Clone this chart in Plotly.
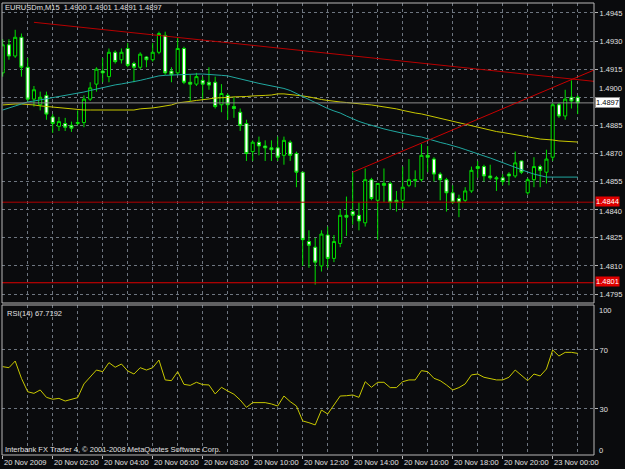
import plotly.graph_objects as go

# ---------------- data ----------------
bar_index = list(range(93))  # 20 Nov 00:00 ... 23 Nov 01:00, M15 bars

opens = [1.4913, 1.4928, 1.4922, 1.4932, 1.4916, 1.4899, 1.4896, 1.4901, 1.48895, 1.48845,
         1.4886, 1.4885, 1.4886, 1.48865, 1.4899, 1.4907, 1.4914, 1.4911, 1.4924, 1.4920,
         1.4926, 1.4918, 1.4916, 1.49215, 1.4920, 1.4924, 1.4933, 1.4914, 1.4913, 1.4926,
         1.4908, 1.4907, 1.4909, 1.4908, 1.4908, 1.4896, 1.4901, 1.4895, 1.4892, 1.4886,
         1.4871, 1.4876, 1.4874, 1.4873, 1.4873, 1.4869, 1.4876, 1.4870, 1.4860, 1.4823,
         1.4820, 1.4810, 1.48265, 1.4814, 1.4822, 1.4837, 1.4839, 1.4837, 1.4833, 1.4856,
         1.4845, 1.4854, 1.4854, 1.4845, 1.4845, 1.4853, 1.48555, 1.4856, 1.4869, 1.4867,
         1.4859, 1.4856, 1.4849, 1.4846, 1.4845, 1.4850, 1.4863, 1.4863, 1.4858, 1.4857,
         1.4857, 1.4859, 1.4858, 1.4866, 1.4849, 1.4856, 1.4863, 1.4860, 1.4868, 1.4896,
         1.4890, 1.4900, 1.4900]
highs = [1.4931, 1.4931, 1.4936, 1.4934, 1.4921, 1.4906, 1.4903, 1.4903, 1.4891, 1.48895,
         1.4889, 1.4887, 1.4893, 1.4901, 1.4908, 1.4916, 1.4921, 1.4926, 1.4925, 1.4926,
         1.4929, 1.4919, 1.4924, 1.4922, 1.4929, 1.4935, 1.4935, 1.4916, 1.4932, 1.4927,
         1.4912, 1.4913, 1.4911, 1.4916, 1.4911, 1.4907, 1.4902, 1.4900, 1.4894, 1.4888,
         1.4877, 1.4879, 1.4877, 1.4877, 1.4879, 1.4879, 1.4877, 1.4871, 1.4860, 1.4829,
         1.4825, 1.4829, 1.4831, 1.48265, 1.4840, 1.4847, 1.4860, 1.4844, 1.4862, 1.4857,
         1.4854, 1.4862, 1.4855, 1.4850, 1.4863, 1.4867, 1.4861, 1.4875, 1.4874, 1.4868,
         1.4860, 1.4857, 1.4853, 1.4848, 1.4852, 1.4863, 1.4866, 1.4864, 1.4864, 1.4858,
         1.4859, 1.4860, 1.4871, 1.4866, 1.4857, 1.4868, 1.4864, 1.4872, 1.4897, 1.4897,
         1.4904, 1.4909, 1.4901]
lows = [1.4911, 1.4920, 1.4921, 1.4911, 1.4898, 1.4895, 1.4893, 1.4888, 1.4881, 1.4882,
        1.4882, 1.48815, 1.4885, 1.4884, 1.4898, 1.4903, 1.4908, 1.4908, 1.4918, 1.4918,
        1.4916, 1.4908, 1.4915, 1.4916, 1.4919, 1.4923, 1.4912, 1.4908, 1.4912, 1.4907,
        1.4898, 1.4906, 1.4899, 1.4904, 1.4894, 1.4892, 1.4888, 1.4889, 1.4882, 1.4866,
        1.4866, 1.4869, 1.4866, 1.4866, 1.4866, 1.4864, 1.4866, 1.4852, 1.4810, 1.4809,
        1.4800, 1.4807, 1.4809, 1.4812, 1.4820, 1.4826, 1.4832, 1.4829, 1.4831, 1.4845,
        1.4824, 1.4844, 1.4840, 1.4839, 1.4841, 1.4852, 1.4852, 1.4855, 1.4860, 1.4855,
        1.4845, 1.4839, 1.4843, 1.4836, 1.4844, 1.4849, 1.4857, 1.4855, 1.4856, 1.4850,
        1.4853, 1.4853, 1.4857, 1.4859, 1.4848, 1.4852, 1.4852, 1.4854, 1.4866, 1.4889,
        1.4888, 1.4894, 1.4891]
closes = [1.4928, 1.4922, 1.4932, 1.4916, 1.4899, 1.4904, 1.4900, 1.4891, 1.4886, 1.4887,
          1.4884, 1.48835, 1.48865, 1.4899, 1.4905, 1.4915, 1.4913, 1.4924, 1.4919, 1.4924,
          1.4917, 1.4916, 1.4923, 1.4920, 1.4924, 1.4934, 1.4913, 1.4912, 1.4926, 1.4908,
          1.4907, 1.4911, 1.4907, 1.49065, 1.4895, 1.4902, 1.4896, 1.4894, 1.4885, 1.4870,
          1.4876, 1.4874, 1.4873, 1.4872, 1.4868, 1.4877, 1.4869, 1.4860, 1.4824, 1.4821,
          1.4812, 1.4827, 1.4814, 1.4823, 1.4837, 1.4836, 1.4837, 1.4834, 1.4856, 1.4846,
          1.4854, 1.4853, 1.4844, 1.4844, 1.4852, 1.4856, 1.4856, 1.4869, 1.4868, 1.4859,
          1.4856, 1.4849, 1.4844, 1.4844, 1.4850, 1.4861, 1.4862, 1.4858, 1.4857, 1.48565,
          1.4855, 1.4858, 1.4865, 1.4860, 1.4856, 1.4863, 1.4861, 1.4867, 1.4896, 1.4890,
          1.4899, 1.4898, 1.4897]

ma_teal = [1.48932, 1.48943, 1.48954, 1.48964, 1.48975, 1.48980, 1.48986, 1.48991, 1.48996, 1.49002,
           1.49007, 1.49012, 1.49020, 1.49028, 1.49036, 1.49044, 1.49052, 1.49059, 1.49066, 1.49071,
           1.49076, 1.49083, 1.49090, 1.49098, 1.49108, 1.49114, 1.49117, 1.49119, 1.49120, 1.49122,
           1.49123, 1.49124, 1.49124, 1.49123, 1.49119, 1.49117, 1.49114, 1.49107, 1.49100, 1.49092,
           1.49082, 1.49074, 1.49068, 1.49063, 1.49055, 1.49047, 1.49036, 1.49020, 1.49004, 1.48986,
           1.48970, 1.48956, 1.48940, 1.48927, 1.48916, 1.48900, 1.48884, 1.48871, 1.48860, 1.48849,
           1.48839, 1.48831, 1.48823, 1.48815, 1.48807, 1.48801, 1.48793, 1.48788, 1.48777, 1.48769,
           1.48759, 1.48751, 1.48743, 1.48732, 1.48721, 1.48711, 1.48697, 1.48687, 1.48676, 1.48663,
           1.48652, 1.48639, 1.48625, 1.48612, 1.48601, 1.48590, 1.48580, 1.48574, 1.48574, 1.48574,
           1.48574, 1.48574, 1.48574]
ma_yellow = [1.48959, 1.48962, 1.48964, 1.48964, 1.48962, 1.48959, 1.48954, 1.48951, 1.48948, 1.48943,
             1.48938, 1.48935, 1.48932, 1.48932, 1.48932, 1.48932, 1.48932, 1.48932, 1.48932, 1.48932,
             1.48932, 1.48932, 1.48938, 1.48940, 1.48943, 1.48948, 1.48954, 1.48959, 1.48970, 1.48972,
             1.48978, 1.48983, 1.48986, 1.48991, 1.48996, 1.48996, 1.48999, 1.49002, 1.49002, 1.49004,
             1.49007, 1.49007, 1.49010, 1.49012, 1.49018, 1.49018, 1.49015, 1.49012, 1.49007, 1.49002,
             1.48994, 1.48988, 1.48983, 1.48978, 1.48975, 1.48972, 1.48970, 1.48964, 1.48962, 1.48959,
             1.48954, 1.48948, 1.48943, 1.48938, 1.48930, 1.48921, 1.48916, 1.48911, 1.48903, 1.48895,
             1.48889, 1.48881, 1.48873, 1.48865, 1.48857, 1.48847, 1.48839, 1.48831, 1.48825, 1.48817,
             1.48812, 1.48807, 1.48799, 1.48793, 1.48788, 1.48783, 1.48777, 1.48775, 1.48772, 1.48767,
             1.48764, 1.48761, 1.48761]

rsi = [58.7, 58.0, 62.5, 50.8, 41.7, 40.6, 42.9, 37.9, 36.6, 37.2,
       35.4, 36.6, 37.7, 47.0, 51.5, 56.4, 55.3, 61.4, 58.3, 60.5,
       55.8, 53.7, 58.0, 56.4, 58.0, 63.2, 49.7, 49.2, 55.3, 46.7,
       46.0, 48.1, 46.5, 46.3, 40.2, 44.7, 42.2, 40.0, 36.1, 31.1,
       34.3, 34.3, 34.3, 33.4, 32.0, 38.8, 35.0, 32.0, 21.9, 20.7,
       19.2, 29.3, 26.6, 32.7, 38.8, 39.0, 39.5, 37.9, 48.5, 44.7,
       48.1, 48.1, 44.5, 44.5, 48.5, 49.7, 49.7, 56.0, 55.3, 50.8,
       49.2, 46.3, 42.9, 44.5, 47.0, 53.1, 53.7, 51.5, 50.8, 49.7,
       49.7, 51.5, 56.4, 52.6, 49.2, 53.7, 52.4, 57.1, 70.0, 65.9,
       68.4, 68.4, 67.7]

time_label_index = [0, 8, 16, 24, 32, 40, 48, 56, 64, 72, 80, 88]
time_labels = ["20 Nov 2009", "20 Nov 02:00", "20 Nov 04:00", "20 Nov 06:00",
               "20 Nov 08:00", "20 Nov 10:00", "20 Nov 12:00", "20 Nov 14:00",
               "20 Nov 16:00", "20 Nov 18:00", "20 Nov 20:00", "23 Nov 00:00"]
price_ticks = [1.4795, 1.4810, 1.4825, 1.4840, 1.4855, 1.4870, 1.4885,
               1.4900, 1.4915, 1.4930, 1.4945]
# tick labels that sit next to a price box are drawn as separate texts, nudged clear of the box
nudged_ticks = [1.4900, 1.4840]
rsi_ticks = [30, 70]
rsi_edge_labels = ["100", "0"]
rsi_edge_values = [97, 2]

level_prices = [1.4844, 1.4801]
current_price = 1.4897
trend_down_x = [5, 94.6]
trend_down_y = [1.4940, 1.49085]
trend_up_x = [56, 94.6]
trend_up_y = [1.4860, 1.49145]

title_text = "EURUSDm,M15  1.4900 1.4901 1.4891 1.4897"
rsi_text = "RSI(14) 67.7192"
copyright_text = "Interbank FX Trader 4, \u00a9 2001-2008 MetaQuotes Software Corp."

# ---------------- styling / layout ----------------
W, H = 625, 469
ML, MR, MT, MB = 2, 31, 3, 14
PW, PH = W - ML - MR, H - MT - MB

def paper_x(px):
    return (px - ML) / PW

def paper_y(py):
    return (H - MB - py) / PH

FONT = "Liberation Sans, Arial, sans-serif"
TXT = "#E0E0E0"
GRID = "#6E7680"
GREEN = "#00E000"
BORDER = "#B8B8B8"

fig = go.Figure()

fig.add_trace(go.Candlestick(
    x=bar_index, open=opens, high=highs, low=lows, close=closes,
    increasing=dict(line=dict(color=GREEN, width=1), fillcolor="#000000"),
    decreasing=dict(line=dict(color=GREEN, width=1), fillcolor="#FFFFFF"),
    whiskerwidth=0, hoverinfo="skip", xaxis="x", yaxis="y", showlegend=False))

fig.add_trace(go.Scatter(x=bar_index, y=ma_yellow, mode="lines",
                         line=dict(color="#C8C800", width=1), hoverinfo="skip",
                         xaxis="x", yaxis="y", showlegend=False))
fig.add_trace(go.Scatter(x=bar_index, y=ma_teal, mode="lines",
                         line=dict(color="#20A8A0", width=1), hoverinfo="skip",
                         xaxis="x", yaxis="y", showlegend=False))

# horizontal price objects
x_full = [-0.112, 94.608]
fig.add_trace(go.Scatter(x=x_full, y=[current_price] * 2, mode="lines",
                         line=dict(color="#8C8C8C", width=1), hoverinfo="skip",
                         xaxis="x", yaxis="y", showlegend=False))
fig.add_trace(go.Scatter(x=x_full, y=[level_prices[0]] * 2, mode="lines",
                         line=dict(color="#B00000", width=1), hoverinfo="skip",
                         xaxis="x", yaxis="y", showlegend=False))
fig.add_trace(go.Scatter(x=x_full, y=[level_prices[1]] * 2, mode="lines",
                         line=dict(color="#E00000", width=1), hoverinfo="skip",
                         xaxis="x", yaxis="y", showlegend=False))
# trend lines
fig.add_trace(go.Scatter(x=trend_down_x, y=trend_down_y, mode="lines",
                         line=dict(color="#B80000", width=1), hoverinfo="skip",
                         xaxis="x", yaxis="y", showlegend=False))
fig.add_trace(go.Scatter(x=trend_up_x, y=trend_up_y, mode="lines",
                         line=dict(color="#C80000", width=1), hoverinfo="skip",
                         xaxis="x", yaxis="y", showlegend=False))

# RSI
fig.add_trace(go.Scatter(x=bar_index, y=rsi, mode="lines",
                         line=dict(color="#C8C800", width=1), hoverinfo="skip",
                         xaxis="x", yaxis="y2", showlegend=False))

small = dict(family=FONT, size=7.5, color=TXT)
annotations = []
annotations.append(dict(text=title_text, xref="paper", yref="paper",
                        x=paper_x(3), y=paper_y(7.5), xanchor="left", yanchor="middle",
                        showarrow=False, font=small))
annotations.append(dict(text=rsi_text, xref="paper", yref="paper",
                        x=paper_x(5), y=paper_y(313), xanchor="left", yanchor="middle",
                        showarrow=False, font=small))
annotations.append(dict(text=copyright_text, xref="paper", yref="paper",
                        x=paper_x(3), y=paper_y(449.5), xanchor="left", yanchor="middle",
                        showarrow=False, font=small))
for xi, lab in zip(time_label_index, time_labels):
    annotations.append(dict(text=lab, xref="x", yref="paper", x=xi, y=paper_y(462.5),
                            xanchor="left", yanchor="middle", xshift=-1, showarrow=False,
                            font=small))
for lab, val in zip(rsi_edge_labels, rsi_edge_values):
    annotations.append(dict(text=lab, xref="paper", yref="y2", x=paper_x(597), y=val,
                            xanchor="left", yanchor="middle", showarrow=False, font=small))
# nudged tick labels (1.4900 sits above the current-price box, 1.4840 below the 1.4844 box)
annotations.append(dict(text="%.4f" % nudged_ticks[0], xref="paper", yref="y",
                        x=paper_x(597), y=nudged_ticks[0], yshift=9, xanchor="left",
                        yanchor="middle", showarrow=False, font=small))
annotations.append(dict(text="%.4f" % nudged_ticks[1], xref="paper", yref="y",
                        x=paper_x(597), y=nudged_ticks[1], yshift=-2, xanchor="left",
                        yanchor="middle", showarrow=False, font=small))
# price boxes on the right axis
annotations.append(dict(text="%.4f" % current_price, xref="paper", yref="y",
                        x=paper_x(595), y=current_price, xanchor="left", yanchor="middle",
                        showarrow=False, bgcolor="#FFFFFF", bordercolor="#909090",
                        borderwidth=1, borderpad=0,
                        font=dict(family=FONT, size=7.5, color="#000000")))
for lp in level_prices:
    annotations.append(dict(text="%.4f" % lp, xref="paper", yref="y",
                            x=paper_x(595), y=lp, yshift=1, xanchor="left", yanchor="middle",
                            showarrow=False, bgcolor="#E00000", borderpad=0,
                            font=dict(family=FONT, size=7.5, color="#FFFFFF")))

shapes = [
    dict(type="rect", xref="paper", yref="paper", x0=0, x1=1, y0=paper_y(303), y1=1,
         line=dict(color=BORDER, width=1), layer="above"),
    dict(type="rect", xref="paper", yref="paper", x0=0, x1=1, y0=0, y1=paper_y(305),
         line=dict(color=BORDER, width=1), layer="above"),
]

grid_common = dict(gridcolor=GRID, griddash="3px,3px", gridwidth=1, zeroline=False)

fig.update_layout(
    width=W, height=H,
    margin=dict(l=ML, r=MR, t=MT, b=MB, pad=0),
    paper_bgcolor="#0A0B0D", plot_bgcolor="#0A0B0D",
    font=dict(family=FONT, size=7.5, color=TXT),
    showlegend=False,
    xaxis=dict(range=[-0.112, 94.608], anchor="y2", tick0=0, dtick=8,
               showticklabels=False, ticks="outside", ticklen=3, tickcolor=BORDER,
               showgrid=True, minor=dict(dtick=4, tick0=0, showgrid=True,
                                         gridcolor=GRID, griddash="3px,3px"),
               rangeslider=dict(visible=False), showline=False, fixedrange=True,
               **grid_common),
    yaxis=dict(domain=[paper_y(303), 1], range=[1.47902, 1.49503], side="right",
               tickvals=price_ticks,
               ticktext=["" if v in nudged_ticks else "%.4f" % v for v in price_ticks],
               ticks="outside", ticklen=3, tickcolor=BORDER,
               tickfont=small, showgrid=True, **grid_common),
    yaxis2=dict(domain=[0, paper_y(305)], range=[-1.2, 100.5], side="right",
                tickvals=rsi_ticks, ticktext=[str(v) for v in rsi_ticks],
                ticks="outside", ticklen=3, tickcolor=BORDER,
                tickfont=small, showgrid=True, **grid_common),
    annotations=annotations,
    shapes=shapes,
)

fig.write_html("out.html")
